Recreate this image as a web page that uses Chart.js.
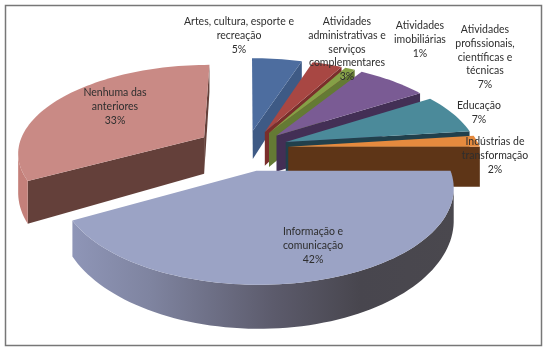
<!DOCTYPE html>
<html>
<head>
<meta charset="utf-8">
<style>html,body{margin:0;padding:0;background:#fff}canvas{display:block;filter:blur(.4px)}</style>
<script src="https://cdn.jsdelivr.net/npm/chart.js@4"></script>
</head>
<body>
<canvas id="c" width="546" height="351"></canvas>
<script>
const categories = ["Artes, cultura, esporte e recreação","Atividades administrativas e serviços complementares","Atividades imobiliárias","Atividades profissionais, científicas e técnicas","Educação","Indústrias de transformação","Informação e comunicação","Nenhuma das anteriores"];
const values = [5,3,1,7,7,2,42,33];
const labelLines = [["Artes, cultura, esporte e","recreação"],["Atividades","administrativas e","serviços","complementares"],["Atividades","imobiliárias"],["Atividades","profissionais,","científicas e","técnicas"],["Educação"],["Indústrias de","transformação"],["Informação e","comunicação"],["Nenhuma das","anteriores"]];
const topColors = ["#4d6d9f","#a84743","#85a046","#7a5b94","#4b8a9a","#e58a3e","#9ba3c5","#c98a85"];
const sideColors = ["#3e5a85","#7a2e2b","#647a34","#432f55","#21404c","#5e3517","#5c5b6c","#64403a"];
const rimColors = ["#3e5a85","#7a2e2b","#647a34","#432f55","#21404c","#6a3c18",null,"#c4807a"];
const infoRim = [[70,"#8f96b8"],[150,"#7f84a0"],[273,"#5c5b6c"],[360,"#48464e"],[455,"#4a484e"]];
const explode = [.2,.2,.2,.2,.2,.2,.25,.24];
const radiusScale = [1,1,1,1,1,1,.97,.97];
const nudgeX = [-3,0,0,0,0,0,-6,-7];
const depth = [30,36,36,38,32,40,28,38];
const labelAnchors = [[239,22],[347,22],[420,26],[485,30],[479,106],[495,142],[313,232],[115,93]];
const drawOrder = [0,1,2,3,4,5,7,6];
const CX=250, CY=148, RX=192, RY=90, P=.167;

function project(u,v,h,nx){const w=1+P*v;return {x:CX+nx+RX*u/w,y:CY-RY*v/w+h/(w*w)};}
function poly(ctx,pts,col){ctx.beginPath();pts.forEach((p,k)=>k?ctx.lineTo(p.x,p.y):ctx.moveTo(p.x,p.y));ctx.closePath();ctx.fillStyle=col;ctx.fill();}

const pie3d={id:'pie3d',
 beforeDraw(chart){const ctx=chart.ctx;ctx.save();ctx.fillStyle='#fff';ctx.fillRect(0,0,546,351);ctx.strokeStyle='#777';ctx.lineWidth=1.5;ctx.strokeRect(5.5,5.5,536,340);ctx.restore();},
 beforeDatasetsDraw(chart){
  const ctx=chart.ctx, arcs=chart.getDatasetMeta(0).data;
  const grad=ctx.createLinearGradient(infoRim[0][0],0,infoRim[infoRim.length-1][0],0);
  infoRim.forEach(s=>grad.addColorStop((s[0]-infoRim[0][0])/(infoRim[infoRim.length-1][0]-infoRim[0][0]),s[1]));
  ctx.save();
  drawOrder.forEach(i=>{
    const a=arcs[i], s=a.startAngle, e=a.endAngle, m=(s+e)/2, r=radiusScale[i];
    const ox=Math.cos(m)*explode[i], oy=-Math.sin(m)*explode[i];
    const gp=[[ox,oy]], N=Math.max(4,Math.ceil((e-s)*30));
    for(let k=0;k<=N;k++){const t=s+(e-s)*k/N;gp.push([ox+r*Math.cos(t),oy-r*Math.sin(t)]);}
    const top=gp.map(p=>project(p[0],p[1],0,nudgeX[i])), bot=gp.map(p=>project(p[0],p[1],depth[i],nudgeX[i]));
    const n=gp.length;
    [[0,1],[n-1,0]].forEach(([p,q])=>{ if(top[q].x<top[p].x) poly(ctx,[top[p],top[q],bot[q],bot[p]],sideColors[i]); });
    let run=[];
    const flush=()=>{ if(run.length>1){ poly(ctx,run.map(k=>top[k]).concat(run.slice().reverse().map(k=>bot[k])),rimColors[i]||grad);} run=[]; };
    for(let k=1;k<n-1;k++){
      if(top[k+1].x<top[k].x){ if(!run.length) run.push(k); run.push(k+1);} else flush();
    }
    flush();
    poly(ctx,top,topColors[i]);
  });
  ctx.font='10.5px Lato';ctx.fillStyle='#2e2e2e';ctx.textAlign='center';ctx.textBaseline='middle';
  labelLines.forEach((ls,i)=>{
    const lines=ls.concat([values[i]+'%']), [x,y]=labelAnchors[i];
    lines.forEach((t,j)=>ctx.fillText(t,x,y+j*13.6));
  });
  ctx.restore();
  return false;
 }
};

new Chart(document.getElementById('c'),{
  type:'pie',
  data:{labels:categories,datasets:[{data:values,backgroundColor:topColors}]},
  options:{responsive:false,animation:false,plugins:{legend:{display:false},tooltip:{enabled:false}}},
  plugins:[pie3d]
});
</script>
</body>
</html>
